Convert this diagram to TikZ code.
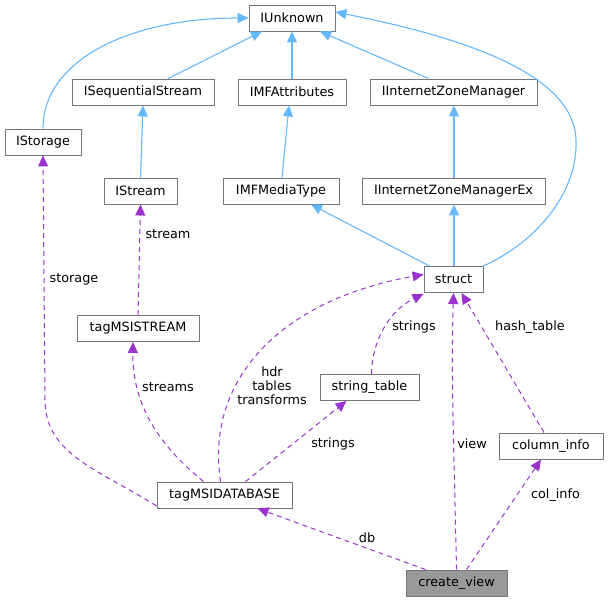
\documentclass[tikz,border=0pt]{standalone}
\usepackage{fontspec}
\setmainfont{DejaVu Sans}
\usetikzlibrary{arrows.meta}
\definecolor{edgeblue}{HTML}{63B8FF}
\definecolor{edgepurple}{HTML}{9A32CD}
\definecolor{boxgray}{HTML}{767676}
\definecolor{fillgray}{HTML}{999999}
\begin{document}
\begin{tikzpicture}[x=1pt,y=-1pt,
  font=\fontsize{12.8}{14}\selectfont,
  box/.style={draw=boxgray,line width=0.9pt,fill=white,rectangle,inner sep=0pt,minimum height=26pt},
  inh/.style={draw=edgeblue,line width=1.1pt,-{Triangle[length=11pt,width=10pt]}},
  use/.style={draw=edgepurple,line width=1pt,dash pattern=on 5pt off 4pt,-{Triangle[length=11pt,width=10pt]}},
  lab/.style={inner sep=0pt,align=center}]
\useasboundingbox (0,0) rectangle (608,601);
% nodes
\node[box,minimum width=86pt]  (iunk) at (292,18) {IUnknown};
\node[box,minimum width=142pt] (iseq) at (143,92) {ISequentialStream};
\node[box,minimum width=108pt] (imfa) at (292,92) {IMFAttributes};
\node[box,minimum width=167pt] (izm)  at (453.5,92) {IInternetZoneManager};
\node[box,minimum width=76pt]  (istor) at (43,142) {IStorage};
\node[box,minimum width=73pt]  (istrm) at (140.5,191) {IStream};
\node[box,minimum width=116pt] (imfm) at (281,191) {IMFMediaType};
\node[box,minimum width=183pt] (izmx) at (453.5,191) {IInternetZoneManagerEx};
\node[box,minimum width=59pt]  (struct) at (453.5,279.5) {struct};
\node[box,minimum width=122pt] (tms) at (138,328.5) {tagMSISTREAM};
\node[box,minimum width=99pt]  (strt) at (369.5,387.5) {string\_table};
\node[box,minimum width=135pt] (tdb) at (224.5,495) {tagMSIDATABASE};
\node[box,minimum width=104pt] (coli) at (551,446) {column\_info};
\node[box,minimum width=101pt,fill=fillgray] (cv) at (456.5,583) {create\_view};
% inheritance edges
\draw[inh] (iseq.north) ++(25,0) -- ([xshift=-30pt]iunk.south);
\draw[inh] (imfa.north) -- (iunk.south);
\draw[inh] (izm.north) ++(-25,0) -- ([xshift=28pt]iunk.south);
\draw[inh] (istor.north) .. controls (43,60) and (130,18) .. (iunk.west);
\draw[inh] (istrm.north) -- (iseq.south);
\draw[inh] (imfm.north) ++(1,0) -- ([xshift=-3pt]imfa.south);
\draw[inh] ([xshift=0.5pt]izmx.north) -- ([xshift=0.5pt]izm.south);
\draw[inh] (struct.north) ++(-24,0) -- ([xshift=30pt]imfm.south);
\draw[inh] ([xshift=0.5pt]struct.north) -- ([xshift=0.5pt]izmx.south);
\draw[inh] (struct.north east) .. controls (540,240) and (578,190) .. (576,140)
   .. controls (574,70) and (450,35) .. ([yshift=6pt]iunk.east);
% usage edges
\draw[use] (tms.north) -- (istrm.south);
\node[lab] (lstream) at (168,234) {stream};
\draw[use] ([yshift=-11pt]tdb.west) .. controls (100,470) and (45,455) .. (45,400) -- (istor.south);
\node[lab] (lstor) at (74,279) {storage};
\draw[use] ([xshift=-21pt]tdb.north) .. controls (165,450) and (132,410) .. ([xshift=-5pt]tms.south);
\node[lab] (lstreams) at (168,387) {streams};
\draw[use] ([xshift=-4pt]tdb.north) .. controls (205,380) and (280,300) .. ([yshift=5pt]struct.west);
\node[lab] (lhdr) at (272,386) {hdr\\tables\\transforms};
\draw[use] ([xshift=21pt]tdb.north) -- ([xshift=-23pt]strt.south);
\node[lab] (lstr1) at (333,444) {strings};
\draw[use] ([xshift=2pt]strt.north) .. controls (372,340) and (390,310) .. ([yshift=-1pt]struct.south west);
\node[lab] (lstr2) at (414,327) {strings};
\draw[use] (cv.north) .. controls (454,450) and (451,380) .. (struct.south);
\node[lab] (lview) at (472,444) {view};
\draw[use] ([xshift=-7pt]coli.north) -- ([xshift=8pt]struct.south);
\node[lab] (lhash) at (530,327) {hash\_table};
\draw[use] ([xshift=-31pt]cv.north) -- ([xshift=33pt]tdb.south);
\node[lab] (ldb) at (367,538) {db};
\draw[use] ([xshift=10pt]cv.north) -- ([xshift=-10pt]coli.south);
\node[lab] (lcol) at (555.5,495) {col\_info};
\end{tikzpicture}
\end{document}
